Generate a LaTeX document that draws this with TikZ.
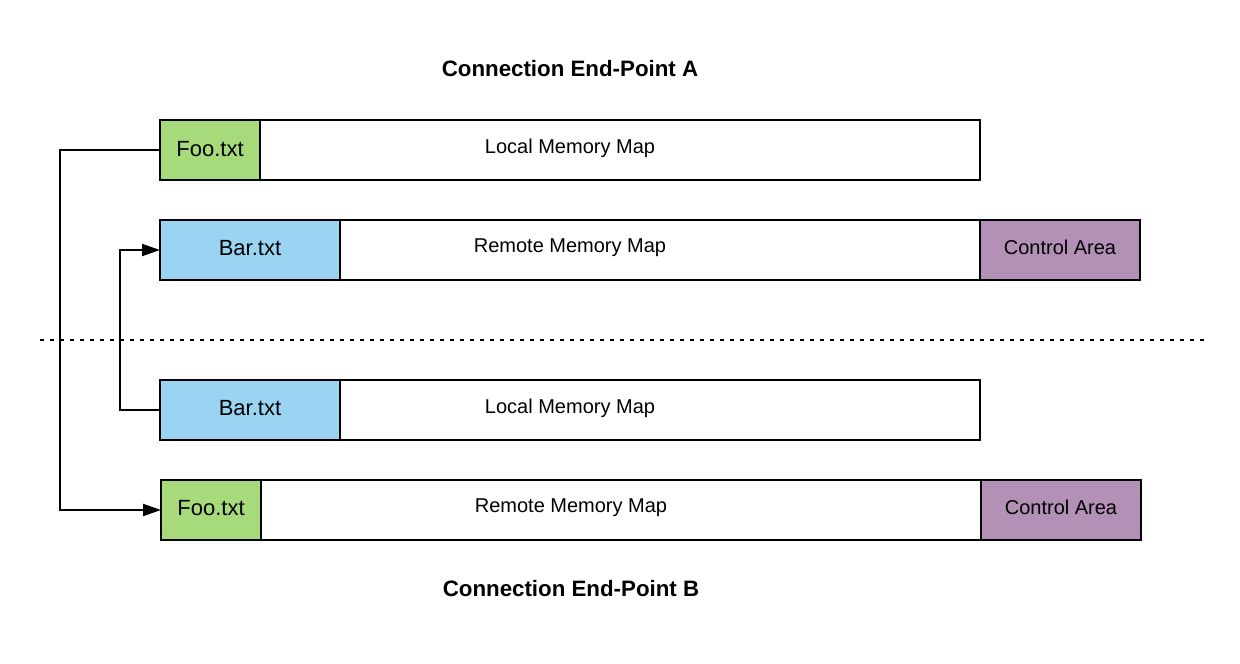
\documentclass[tikz,border=0pt]{standalone}
\usepackage{fontspec}
\setmainfont{Liberation Sans}
\usetikzlibrary{arrows.meta}
\definecolor{foogreen}{RGB}{166,218,122}
\definecolor{barblue}{RGB}{155,211,242}
\definecolor{ctrlpurple}{RGB}{179,144,182}
\tikzset{
  mbox/.style={draw=black, line width=2pt, anchor=north west, minimum height=60pt, inner sep=0pt, outer sep=0pt},
  lbl/.style={font=\fontsize{20}{24}\selectfont, inner sep=0pt},
  flbl/.style={font=\fontsize{22}{26}\selectfont, inner sep=0pt},
  ttl/.style={font=\fontsize{22.3}{26}\selectfont\bfseries, inner sep=0pt},
  conn/.style={draw=black, line width=2pt, -{Triangle[length=18pt,width=12pt]}},
}
\begin{document}
\begin{tikzpicture}[x=1pt,y=-1pt]
\useasboundingbox[fill=white] (0,0) rectangle (1240,664);

\node[ttl] (titleA) at (570,69) {Connection End-Point A};
\node[ttl] (titleB) at (571,589) {Connection End-Point B};

% Row 1
\node[mbox, minimum width=820pt, fill=white] (lmA) at (160,120) {};
\node[mbox, minimum width=100pt, fill=foogreen] (fooA) at (160,120) {};
\node[flbl] (fooAl) at (210,149) {Foo.txt};
\node[lbl] (lmAl) at (570,148) {Local Memory Map};

% Row 2
\node[mbox, minimum width=980pt, fill=white] (rmA) at (160,220) {};
\node[mbox, minimum width=180pt, fill=barblue] (barA) at (160,220) {};
\node[flbl] (barAl) at (250,248) {Bar.txt};
\node[mbox, minimum width=160pt, fill=ctrlpurple] (ctA) at (980,220) {};
\node[lbl] (ctAl) at (1060,247) {Control Area};
\node[lbl] (rmAl) at (570,248) {Remote Memory Map};

% separator
\coordinate (sepL) at (40,340);
\coordinate (sepR) at (1204,340);
\draw[line width=2pt, dash pattern=on 4pt off 6pt] (sepL) -- (sepR);

% Row 3
\node[mbox, minimum width=820pt, fill=white] (lmB) at (160,380) {};
\node[mbox, minimum width=180pt, fill=barblue] (barB) at (160,380) {};
\node[flbl] (barBl) at (250,408) {Bar.txt};
\node[lbl] (lmBl) at (570,408) {Local Memory Map};

% Row 4
\node[mbox, minimum width=980pt, fill=white] (rmB) at (161,480) {};
\node[mbox, minimum width=100pt, fill=foogreen] (fooB) at (161,480) {};
\node[flbl] (fooBl) at (211,508) {Foo.txt};
\node[mbox, minimum width=160pt, fill=ctrlpurple] (ctB) at (981,480) {};
\node[lbl] (ctBl) at (1061,507) {Control Area};
\node[lbl] (rmBl) at (571,508) {Remote Memory Map};

% connectors
\draw[conn] (fooA.west) -- ++(-100,0) |- (fooB.west);
\draw[conn] (barB.west) -- ++(-40,0) |- (barA.west);
\end{tikzpicture}
\end{document}
